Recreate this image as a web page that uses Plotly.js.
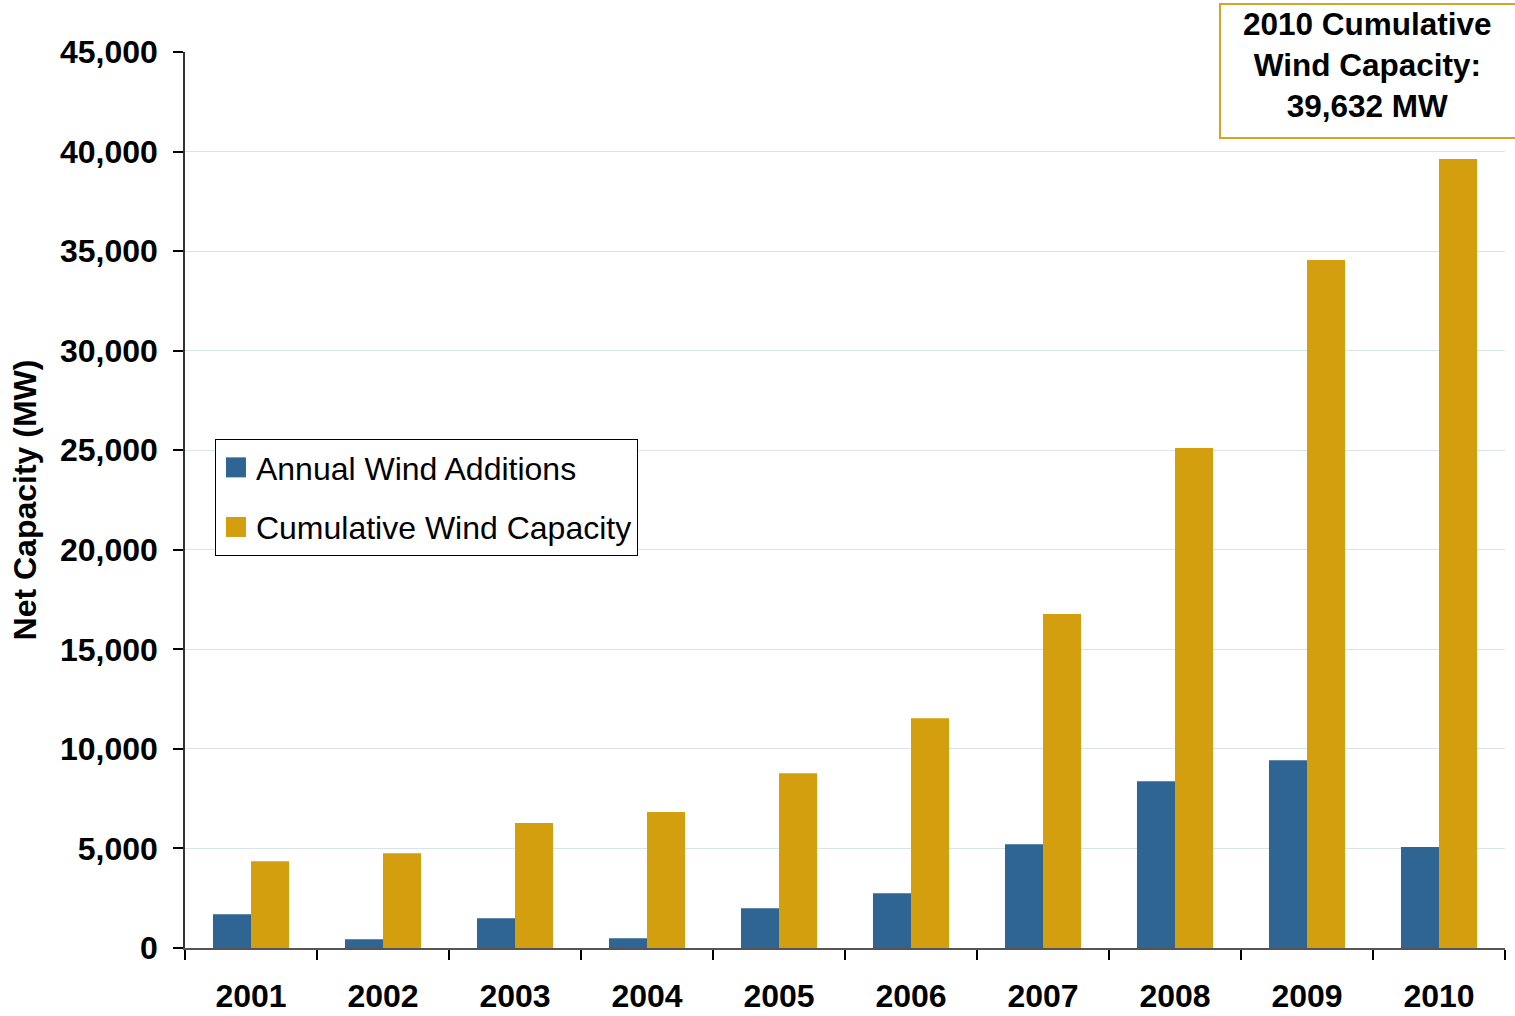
<!DOCTYPE html>
<html>
<head>
<meta charset="utf-8">
<script src="https://cdn.plot.ly/plotly-3.0.1.min.js"></script>
<style>
  html, body { margin: 0; padding: 0; background: #ffffff; }
  #chart { width: 1515px; height: 1016px; }
</style>
</head>
<body>
<div id="chart"></div>
<script>
// U.S. wind capacity, 2001-2010 (MW)
const years = ['2001', '2002', '2003', '2004', '2005', '2006', '2007', '2008', '2009', '2010'];
const annualAdditions = [1695, 440, 1495, 490, 1995, 2750, 5210, 8375, 9430, 5070];
const cumulativeCapacity = [4355, 4760, 6280, 6830, 8775, 11540, 16775, 25115, 34555, 39632];
const yTicks = [0, 5000, 10000, 15000, 20000, 25000, 30000, 35000, 40000, 45000];
const yTickLabels = ['0', '5,000', '10,000', '15,000', '20,000', '25,000', '30,000', '35,000', '40,000', '45,000'];

const FONT = 'Liberation Sans, Arial, sans-serif';
const BLUE = '#2E6593';
const GOLD = '#D39F0F';

const traces = [
  {
    type: 'bar',
    name: 'Annual Wind Additions',
    x: years,
    y: annualAdditions,
    marker: { color: BLUE },
    legendgroup: 'a',
    hoverinfo: 'x+y+name'
  },
  {
    type: 'bar',
    name: 'Cumulative Wind Capacity',
    x: years,
    y: cumulativeCapacity,
    marker: { color: GOLD },
    legendgroup: 'b',
    hoverinfo: 'x+y+name'
  }
];

const total2010 = cumulativeCapacity[cumulativeCapacity.length - 1];

const layout = {
  width: 1515,
  height: 1016,
  margin: { l: 185, r: 10, t: 52, b: 68, pad: 0 },
  paper_bgcolor: '#ffffff',
  plot_bgcolor: '#ffffff',
  barmode: 'group',
  bargap: 0.424,
  bargroupgap: 0,
  font: { family: FONT, color: '#000000' },
  showlegend: true,
  legend: {
    x: 0.0227, y: 0.568,
    xanchor: 'left', yanchor: 'top',
    bgcolor: '#ffffff',
    bordercolor: '#000000',
    borderwidth: 1,
    font: { family: FONT, size: 32, color: '#000000' },
    traceorder: 'grouped',
    tracegroupgap: 15
  },
  xaxis: {
    type: 'category',
    tickson: 'boundaries',
    ticks: 'outside',
    ticklen: 10,
    tickwidth: 1.5,
    tickcolor: '#000000',
    showline: true,
    linecolor: '#555555',
    linewidth: 1.5,
    showgrid: false,
    tickfont: { family: FONT, size: 32, color: '#000000', weight: 'bold' },
    ticklabelstandoff: 19,
    fixedrange: true
  },
  yaxis: {
    range: [0, 45000],
    tickvals: yTicks,
    ticktext: yTickLabels,
    ticks: 'outside',
    ticklen: 10,
    tickwidth: 1.5,
    tickcolor: '#000000',
    showline: true,
    linecolor: '#333333',
    linewidth: 1.5,
    showgrid: true,
    gridcolor: '#d7e5e6',
    gridwidth: 1,
    zeroline: false,
    tickfont: { family: FONT, size: 32, color: '#000000', weight: 'bold' },
    ticklabelstandoff: 9,
    title: {
      text: 'Net Capacity (MW)',
      font: { family: FONT, size: 32, color: '#000000', weight: 'bold' },
      standoff: 14
    },
    fixedrange: true
  },
  shapes: [
    // frame around the 2010 total callout
    {
      type: 'rect',
      xref: 'paper', yref: 'paper',
      x0: 0.7841, x1: 1.0114,
      y0: 0.904, y1: 1.0536,
      line: { color: '#D4A428', width: 2 },
      fillcolor: '#ffffff',
      layer: 'above'
    }
  ],
  annotations: [
    {
      xref: 'paper', yref: 'paper',
      x: 0.8962, y: 0.9855,
      xanchor: 'center', yanchor: 'middle',
      text: '2010 Cumulative<br>Wind Capacity:<br>' + total2010.toLocaleString('en-US') + ' MW',
      showarrow: false,
      align: 'center',
      font: { family: FONT, size: 31.5, color: '#000000', weight: 'bold' }
    }
  ]
};

Plotly.newPlot('chart', traces, layout, { displayModeBar: false }).then(function () {
  // larger square legend swatches
  document.querySelectorAll('.legend .legendpoints path').forEach(function (p) {
    p.setAttribute('d', 'M10,10H-10V-10H10Z');
  });
});
</script>
</body>
</html>
